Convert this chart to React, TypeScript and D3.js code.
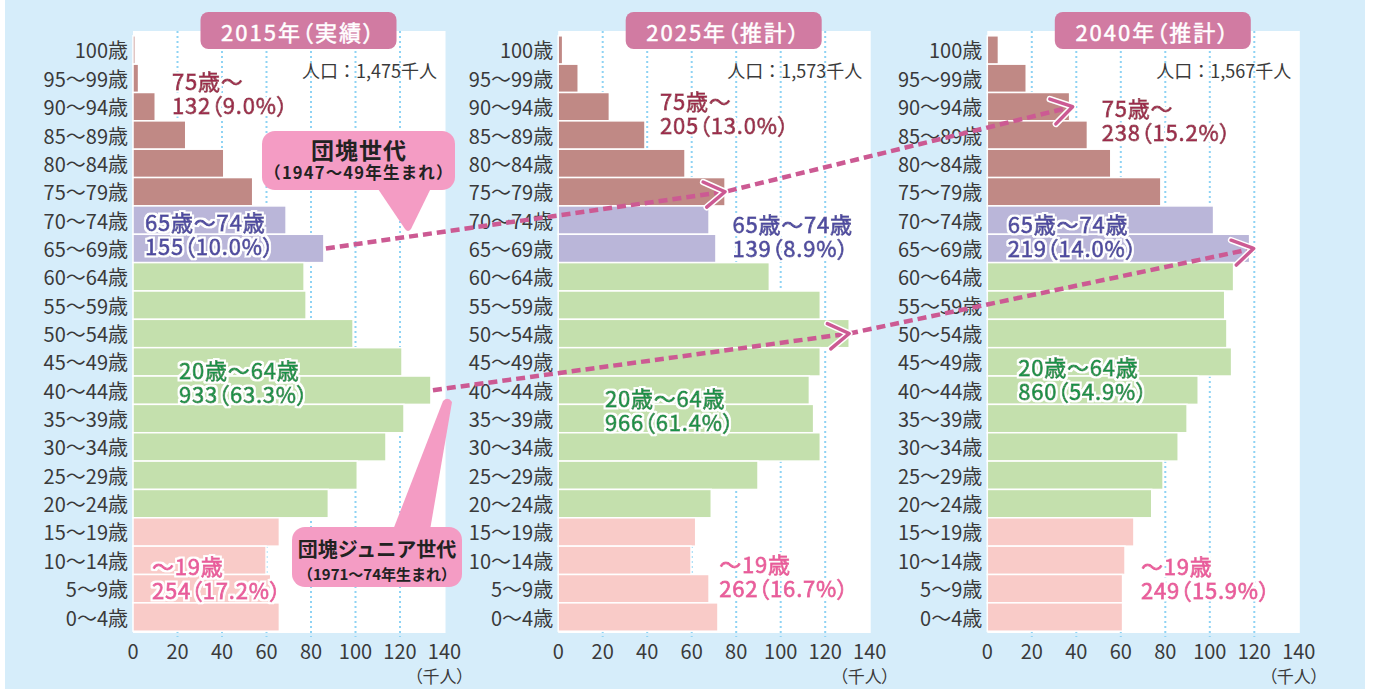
import React from "react";
import { scaleLinear, scaleBand, line } from "d3";

// age groups, top (oldest) to bottom
const ageGroups = [
  "100歳", "95～99歳", "90～94歳", "85～89歳", "80～84歳", "75～79歳",
  "70～74歳", "65～69歳", "60～64歳", "55～59歳", "50～54歳", "45～49歳",
  "40～44歳", "35～39歳", "30～34歳", "25～29歳", "20～24歳", "15～19歳",
  "10～14歳", "5～9歳", "0～4歳",
];

// population (thousand people)
const pop2015 = [1, 2.5, 10, 23.7, 40.8, 53.8, 68.8, 85.8, 76.9, 77.8, 98.9, 120.9, 133.9, 121.8, 113.7, 100.8, 87.8, 65.8, 59.8, 61.9, 65.8];
const pop2025 = [2, 9, 23, 39, 57, 75, 67.8, 70.9, 94.9, 117.8, 130.8, 117.8, 112.9, 114.8, 117.8, 89.8, 68.8, 61.8, 59.7, 67.8, 71.8];
const pop2040 = [5, 17.5, 37, 45, 55.5, 78, 101.7, 117.9, 110.7, 106.7, 107.7, 109.8, 94.8, 89.8, 85.8, 79, 73.9, 65.9, 61.9, 60.8, 60.8];

const panelTitles = ["2015年（実績）", "2025年（推計）", "2040年（推計）"];
const totals = ["人口：1,475千人", "人口：1,573千人", "人口：1,567千人"];
const xTicks = [0, 20, 40, 60, 80, 100, 120, 140];
const gridTicks = [20, 40, 60, 80, 100, 120];

const groupNames = ["75歳～", "65歳～74歳", "20歳～64歳", "～19歳"];
const groupValues = [
  ["132（9.0%）", "155（10.0%）", "933（63.3%）", "254（17.2%）"],
  ["205（13.0%）", "139（8.9%）", "966（61.4%）", "262（16.7%）"],
  ["238（15.2%）", "219（14.0%）", "860（54.9%）", "249（15.9%）"],
];

const barColors = ["#c08985", "#bab6d9", "#c4e0ad", "#f9cbc8"];
const textColors = ["#9c2a4b", "#4e4aa0", "#1a9148", "#e95b9c"];

// which colour group a row belongs to
function groupOf(i: number) {
  if (i <= 5) return 0;
  if (i <= 7) return 1;
  if (i <= 16) return 2;
  return 3;
}

const W = 1373;
const H = 689;
const panelX = [133, 558.2, 987.3];
const plotW = 311.5;
const FONT = "'Noto Sans CJK JP', 'Noto Sans', sans-serif";
const arrowColor = "#cc5a93";
const PALT = { fontFeatureSettings: "'palt'" };

// label anchors: [value, row] for each group in each panel
const labelPos = [
  [[17.5, 1.05], [5.4, 6.03], [20.7, 11.25], [8.5, 18.17]],
  [[45.7, 1.76], [78.3, 6.1], [21, 12.24], [72.4, 18.08]],
  [[51.4, 2.01], [9.2, 6.1], [13.9, 11.15], [69.1, 18.17]],
];

const yScale = scaleBand<string>().domain(ageGroups).range([35.8, 631.2]).padding(0);
const rowY = (r: number) => 35.8 + yScale.bandwidth() * (r + 0.5);

const App: React.FC = () => {
  const series = [pop2015, pop2025, pop2040];
  const xs = panelX.map((x0) => scaleLinear().domain([0, 140]).range([x0, x0 + plotW]));

  const lineGen = line<[number, number]>();

  // arrow paths through bar ends
  const pt = (p: number, row: number, gap: number): [number, number] => [
    xs[p](series[p][row]) + gap,
    yScale(ageGroups[row])! + yScale.bandwidth() / 2,
  ];
  const arrows = [
    [pt(0, 7, 2), pt(1, 5, 0), pt(2, 2, 3)],
    [pt(0, 12, 2), pt(1, 10, 0), pt(2, 7, 4)],
  ];

  const chevron = (a: [number, number], b: [number, number]) => {
    const ang = Math.atan2(b[1] - a[1], b[0] - a[0]);
    const len = 24;
    const spread = (32 * Math.PI) / 180;
    const p1: [number, number] = [b[0] - len * Math.cos(ang - spread), b[1] - len * Math.sin(ang - spread)];
    const p2: [number, number] = [b[0] - len * Math.cos(ang + spread), b[1] - len * Math.sin(ang + spread)];
    return lineGen([p1, b, p2]) as string;
  };

  return (
    <svg
      width={W}
      height={H}
      style={{ position: "absolute", left: 0, top: 0, fontFamily: FONT }}
    >
      <defs>
        <filter id="halo" x="-10%" y="-20%" width="120%" height="140%">
          <feMorphology in="SourceAlpha" operator="dilate" radius={1.8} result="d" />
          <feFlood floodColor="#fff" />
          <feComposite in2="d" operator="in" result="w" />
          <feMerge>
            <feMergeNode in="w" />
            <feMergeNode in="SourceGraphic" />
          </feMerge>
        </filter>
      </defs>
      <rect x={0} y={0} width={W} height={H} fill="#fff" />
      <rect x={5} y={0} width={1360} height={H} fill="#d6edfa" />

      {series.map((data, p) => {
        const x = xs[p];
        const x0 = panelX[p];
        return (
          <g key={p}>
            <rect x={x0} y={31} width={plotW + 1} height={602} fill="#fff" />
            {gridTicks.map((t) => (
              <line
                key={t}
                x1={x(t)}
                x2={x(t)}
                y1={31}
                y2={637}
                stroke="#8ed3f4"
                strokeWidth={2}
                strokeDasharray="2 3"
              />
            ))}
            {data.map((v, i) => (
              <rect
                key={i}
                x={x(0)}
                y={yScale(ageGroups[i])}
                width={x(v) - x(0)}
                height={yScale.bandwidth()}
                fill={barColors[groupOf(i)]}
                stroke="#fff"
                strokeWidth={1.5}
              />
            ))}
            {ageGroups.map((a) => (
              <text
                key={a}
                x={x0 - 5}
                y={yScale(a)! + yScale.bandwidth() / 2}
                textAnchor="end"
                dominantBaseline="central"
                fontSize={20}
                fill="#3a3a3a"
              >
                {a}
              </text>
            ))}
            {xTicks.map((t) => (
              <text
                key={t}
                x={x(t)}
                y={650}
                textAnchor="middle"
                dominantBaseline="central"
                fontSize={20}
                fill="#3a3a3a"
              >
                {t}
              </text>
            ))}
            <text
              x={x0 + 332}
              y={675}
              textAnchor="end"
              dominantBaseline="central"
              fontSize={17}
              fill="#3a3a3a"
              style={PALT}
            >
              （千人）
            </text>
            <text
              x={x0 + 304}
              y={70}
              textAnchor="end"
              dominantBaseline="central"
              fontSize={18}
              fill="#3a3a3a"
            >
              {totals[p]}
            </text>
            {groupNames.map((g, k) => {
              const [v, r] = labelPos[p][k];
              const lx = x(v);
              const ty = rowY(r);
              return (
                <text
                  key={g}
                  fontSize={22}
                  letterSpacing={0.8}
                  fill={textColors[k]}
                  stroke={textColors[k]}
                  strokeWidth={0.8}
                  filter="url(#halo)"
                  style={PALT}
                >
                  <tspan x={lx} y={ty} dominantBaseline="central">{g}</tspan>
                  <tspan x={lx} y={ty + 24} dominantBaseline="central">{groupValues[p][k]}</tspan>
                </text>
              );
            })}
            <rect x={x0 + 67.5} y={12} width={196} height={37} rx={8} fill="#d17ba2" />
            <text
              x={x0 + 165.5}
              y={31}
              textAnchor="middle"
              dominantBaseline="central"
              fontSize={22}
              letterSpacing={2}
              fill="#fff"
              stroke="#fff"
              strokeWidth={0.5}
              style={PALT}
            >
              {panelTitles[p]}
            </text>
          </g>
        );
      })}

      {/* callouts */}
      <g>
        <path d="M376,186 L432,186 L411,229 Q408,233 405,229 Z" fill="#f49cc4" />
        <rect x={262} y={131} width={193} height={59} rx={13} fill="#f49cc4" />
        <text x={359} y={149} textAnchor="middle" dominantBaseline="central" fontSize={23} fontWeight={700} letterSpacing={1} fill="#222">
          団塊世代
        </text>
        <text x={359} y={172} textAnchor="middle" dominantBaseline="central" fontSize={16.5} fontWeight={700} letterSpacing={1.2} fill="#222">
          （1947～49年生まれ）
        </text>

        <path d="M393,530 L430,530 L452,402 Q448,396 443,401 Z" fill="#f49cc4" />
        <rect x={292} y={527} width={170} height={60} rx={13} fill="#f49cc4" />
        <text x={377} y={548} textAnchor="middle" dominantBaseline="central" fontSize={20} fontWeight={700} fill="#222">
          団塊ジュニア世代
        </text>
        <text x={377} y={573} textAnchor="middle" dominantBaseline="central" fontSize={15} fontWeight={700} fill="#222">
          （1971～74年生まれ）
        </text>
      </g>

      {/* cohort arrows */}
      {arrows.map((pts, i) => (
        <g key={i}>
          <path
            d={lineGen(pts) as string}
            fill="none"
            stroke={arrowColor}
            strokeWidth={4.5}
            strokeDasharray="9 5"
          />
          {[1, 2].map((j) => (
            <g key={j}>
              <path d={chevron(pts[j - 1], pts[j])} fill="none" stroke="#fff" strokeWidth={6.5} strokeLinecap="round" strokeLinejoin="round" />
              <path d={chevron(pts[j - 1], pts[j])} fill="none" stroke={arrowColor} strokeWidth={3.5} strokeLinecap="round" strokeLinejoin="round" />
            </g>
          ))}
        </g>
      ))}
    </svg>
  );
};

export default App;
